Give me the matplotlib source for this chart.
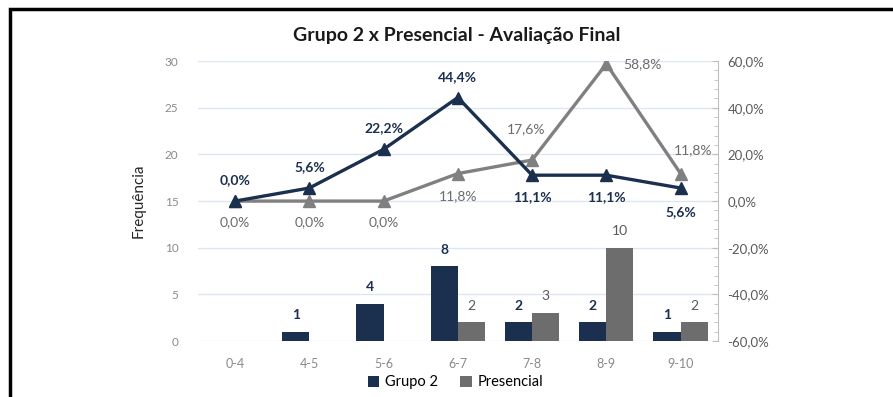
import matplotlib.pyplot as plt
import matplotlib.ticker as mticker
from matplotlib.patches import Rectangle
import numpy as np

plt.rcParams['font.family'] = ['Lato', 'DejaVu Sans']

categorias = ["0-4", "4-5", "5-6", "6-7", "7-8", "8-9", "9-10"]
grupo2 = [0, 1, 4, 8, 2, 2, 1]
presencial = [0, 0, 0, 2, 3, 10, 2]
grupo2_pct = [0.0, 5.6, 22.2, 44.4, 11.1, 11.1, 5.6]
presencial_pct = [0.0, 0.0, 0.0, 11.8, 17.6, 58.8, 11.8]

azul = "#1b2f4e"
cinza_barra = "#6d6d6d"
cinza_linha = "#808080"

fig = plt.figure(figsize=(8.93, 3.97), dpi=100)
ax = fig.add_axes([0.2217, 0.141, 0.582, 0.705])
ax2 = ax.twinx()

x = np.arange(len(categorias))
w = 0.365
b1 = ax.bar(x - w / 2, grupo2, w, color=azul, label="Grupo 2", zorder=2)
b2 = ax.bar(x + w / 2, presencial, w, color=cinza_barra, label="Presencial", zorder=2)

# rótulos das barras (zeros não aparecem)
for xi, v in zip(x, grupo2):
    if v > 0:
        ax.annotate(str(v), (xi - w / 2, v), xytext=(0, 12), textcoords="offset points",
                    ha="center", va="center", color=azul, fontsize=10, fontweight="bold")
for xi, v in zip(x, presencial):
    if v > 0:
        ax.annotate(str(v), (xi + w / 2, v), xytext=(0, 12), textcoords="offset points",
                    ha="center", va="center", color="#595959", fontsize=10)

ax.set_ylim(0, 30)
ax.set_xlim(-0.5, len(categorias) - 0.5)
ax.set_yticks(range(0, 31, 5))
ax.set_xticks(x)
ax.set_xticklabels(categorias)
ax.tick_params(axis="y", length=0, labelsize=8.5, colors="#8a8a8a", pad=14)
ax.tick_params(axis="x", length=0, labelsize=9, colors="#8a8a8a", pad=12)
ax.grid(axis="y", color="#dce6f2", linewidth=1, zorder=0)
ax.set_axisbelow(True)
for s in ax.spines.values():
    s.set_visible(False)
ax.set_ylabel("Frequência", fontsize=11, color="#262626", labelpad=14)

# linhas de percentual
ax2.plot(x, presencial_pct, color=cinza_linha, lw=2.4, marker="^", ms=8, zorder=3)
ax2.plot(x, grupo2_pct, color=azul, lw=2.4, marker="^", ms=8, zorder=4)
ax2.set_ylim(-60, 60)
ax2.set_yticks(range(-60, 61, 20))
ax2.yaxis.set_minor_locator(mticker.MultipleLocator(4))
ax2.yaxis.set_major_formatter(
    mticker.FuncFormatter(lambda v, p: f"{v:.1f}%".replace(".", ",")))
ax2.tick_params(axis="y", which="major", length=4, direction="in", labelsize=9.5,
                colors="#bfbfbf", labelcolor="#5a5a5a", pad=7)
ax2.tick_params(axis="y", which="minor", length=3, direction="in", colors="#bfbfbf")
for k, s in ax2.spines.items():
    s.set_visible(k == "right")
ax2.spines["right"].set_color("#bfbfbf")

def fmt(v):
    return f"{v:.1f}%".replace(".", ",")

# posição dos rótulos: (dx, dy) em pontos
pos_g2 = [(0, 15), (0, 15), (0, 15), (0, 15), (0, -16), (0, -16), (0, -17)]
pos_pr = [(0, -15), (0, -15), (0, -15), (0, -16), (-4, 22), (26, 0), (9, 17)]
for xi, v, (dx, dy) in zip(x, grupo2_pct, pos_g2):
    ax2.annotate(fmt(v), (xi, v), xytext=(dx, dy), textcoords="offset points",
                 ha="center", va="center", color=azul, fontsize=10, fontweight="bold")
for xi, v, (dx, dy) in zip(x, presencial_pct, pos_pr):
    ax2.annotate(fmt(v), (xi, v), xytext=(dx, dy), textcoords="offset points",
                 ha="center", va="center", color="#6b6b6b", fontsize=10)

fig.text(0.512, 0.91, "Grupo 2 x Presencial - Avaliação Final", ha="center",
         va="center", fontsize=14, fontweight="bold", color="#1a1a1a")

fig.legend(handles=[b1, b2], loc="center", bbox_to_anchor=(0.51, 0.037), ncol=2,
           frameon=False, fontsize=10.5, handlelength=0.8, handleheight=0.8,
           handletextpad=0.4, columnspacing=1.5)

# moldura do print
fig.patches.append(Rectangle((0.011, -0.1), 1.2, 1.077, transform=fig.transFigure,
                             fill=False, edgecolor="black", linewidth=2.5))

fig.savefig("out.png", dpi=100)
